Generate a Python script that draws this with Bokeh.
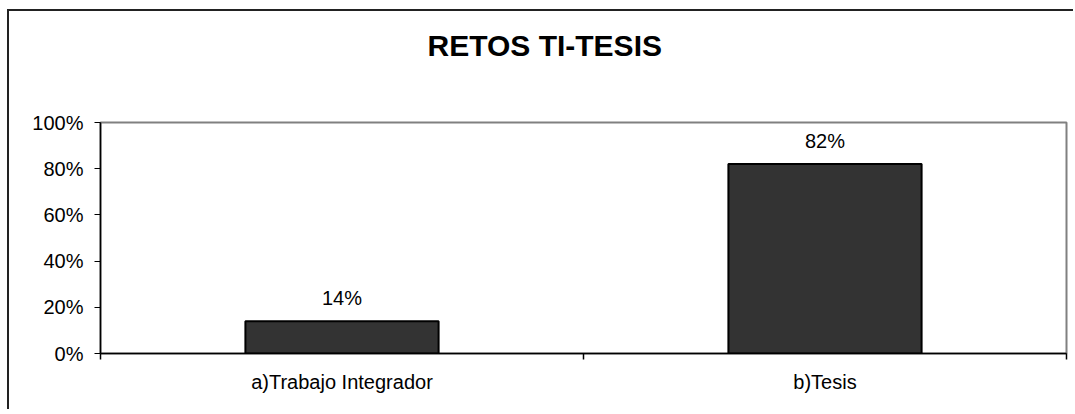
from bokeh.plotting import figure
from bokeh.models import (ColumnDataSource, Range1d, FixedTicker, NumeralTickFormatter,
                          LabelSet, Title)
from bokeh.core.properties import value
from bokeh.embed import file_html
from bokeh.resources import INLINE

# ---- data ----
categories = ["a)Trabajo Integrador", "b)Tesis"]
values = [0.14, 0.82]
y_ticks = [0.0, 0.2, 0.4, 0.6, 0.8, 1.0]
title_text = "RETOS TI-TESIS"

FONT = "Liberation Sans"

n = len(categories)
centers = [i + 0.5 for i in range(n)]
bounds = list(range(n + 1))
src = ColumnDataSource(dict(
    x=centers,
    top=values,
    cat=categories,
    label=[f"{v:.0%}" for v in values],
))

p = figure(width=1066, height=400, output_backend="svg", toolbar_location=None,
           x_range=Range1d(0, n), y_range=Range1d(0, 1),
           min_border_left=91, min_border_right=9, min_border_top=111, min_border_bottom=58)
p.styles = {"margin-left": "9px", "margin-top": "11px",
            "box-shadow": "-2px -2px 0 0 #222222"}

# title (outermost) plus an empty spacer between it and the plot area
p.title = Title(text=title_text, align="left", offset=327, text_font=FONT,
                text_font_size="30px", text_font_style="bold", text_color="black",
                standoff=10)
p.add_layout(Title(text=" ", text_font_size="10px", standoff=43), "above")

p.grid.visible = False
p.background_fill_color = "white"
p.border_fill_color = "white"
p.outline_line_color = "#808080"
p.outline_line_width = 2

p.vbar(x="x", top="top", width=0.4, bottom=0, source=src,
       fill_color="#333333", line_color="black", line_width=2)

p.add_layout(LabelSet(x="x", y="top", text="label", source=src, y_offset=16,
                      text_align="center", text_baseline="alphabetic",
                      text_font=value(FONT), text_font_size="20px", text_color="black"))

# y axis
ya = p.yaxis[0]
ya.ticker = FixedTicker(ticks=y_ticks)
ya.formatter = NumeralTickFormatter(format="0%")
ya.axis_line_color = "black"
ya.axis_line_width = 1.5
ya.major_tick_in = 0
ya.major_tick_out = 6
ya.major_tick_line_color = "black"
ya.minor_tick_line_color = None
ya.major_label_standoff = 11
ya.major_label_text_font = FONT
ya.major_label_text_font_size = "20px"
ya.major_label_text_color = "black"

# x axis: labels at category centres, ticks at category boundaries
xa = p.xaxis[0]
xa.ticker = FixedTicker(ticks=centers, minor_ticks=bounds)
xa.major_label_overrides = {c: lab for c, lab in zip(centers, categories)}
xa.axis_line_color = "black"
xa.axis_line_width = 1.5
xa.major_tick_line_color = None
xa.major_tick_in = 0
xa.major_tick_out = 0
xa.minor_tick_in = 0
xa.minor_tick_out = 6
xa.minor_tick_line_color = "black"
xa.minor_tick_line_width = 1.5
xa.major_label_standoff = 11
xa.major_label_text_font = FONT
xa.major_label_text_font_size = "20px"
xa.major_label_text_color = "black"

open("out.html", "w").write(file_html(p, INLINE))
